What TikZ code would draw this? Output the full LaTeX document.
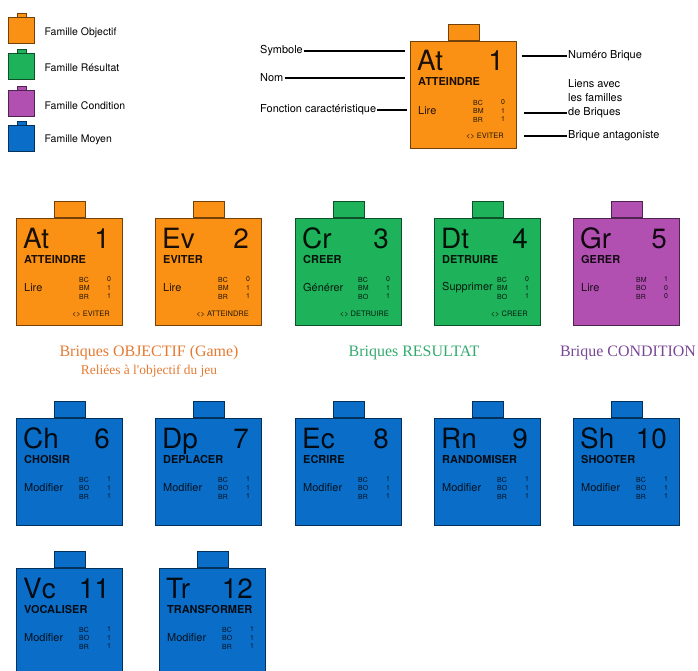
\documentclass[tikz,border=0pt]{standalone}
\usepackage{fontspec}
\setmainfont{TeX Gyre Heros}
\newfontfamily\capfont{Liberation Serif}
\usetikzlibrary{positioning, calc}
\definecolor{objorange}{RGB}{250,145,20}
\definecolor{resgreen}{RGB}{30,178,90}
\definecolor{condpurple}{RGB}{178,80,178}
\definecolor{moyblue}{RGB}{10,110,200}
\definecolor{capo}{RGB}{228,122,50}
\definecolor{capg}{RGB}{50,170,110}
\definecolor{capp}{RGB}{120,70,150}

\tikzset{
  body/.style={draw=#1!45!black, fill=#1, line width=0.6bp, inner sep=0pt,
    minimum width=106bp, minimum height=107bp, anchor=north west},
  tab/.style={draw=#1!45!black, fill=#1, line width=0.6bp, inner sep=0pt,
    minimum width=31bp, minimum height=16bp, anchor=south},
  mini/.style={draw=#1!45!black, fill=#1, line width=0.5bp, inner sep=0pt,
    minimum width=26bp, minimum height=26bp, anchor=north west},
  minitab/.style={draw=#1!45!black, fill=#1, line width=0.4bp, inner sep=0pt,
    minimum width=9bp, minimum height=4bp, anchor=south},
  symb/.style={font=\fontsize{28}{28}\selectfont, inner sep=0pt},
  nom/.style={font=\bfseries\fontsize{11}{11}\selectfont, inner sep=0pt},
  fonc/.style={font=\fontsize{11}{11}\selectfont, inner sep=0pt},
  tiny/.style={font=\fontsize{7}{7}\selectfont, inner sep=0pt},
  antag/.style={font=\fontsize{7.5}{7.5}\selectfont, inner sep=0pt},
  lab/.style={font=\fontsize{11}{14}\selectfont, inner sep=1bp, anchor=west},
  famille/.style={font=\fontsize{10.5}{12}\selectfont, inner sep=0pt, anchor=west},
  trait/.style={line width=2bp},
}

% une brique : nom, position (coin haut gauche), couleur, symbole, numero,
% nom, fonction, liens, brique antagoniste
\newcommand{\brique}[9]{%
  \node[body=#3] (#1) at (#2) {};
  \node[tab=#3] (#1-tab) at (#1.north) {};
  \node[symb, text=#3!10!black, anchor=base west] (#1-sym) at ($(#1.north west)+(7,30)$) {#4};
  \node[symb, text=#3!10!black, anchor=base east] (#1-num) at ($(#1.north west)+(94,30)$) {#5};
  \node[nom, text=#3!10!black, anchor=base west] (#1-nom) at ($(#1.north west)+(8,45)$) {#6};
  \node[fonc, text=#3!15!black, anchor=west] (#1-fonc) at ($(#1.north west)+(8,70)$) {#7};
  \foreach \lab/\val [count=\i] in {#8} {
    \node[tiny, text=#3!15!black, anchor=west] (#1-l\i) at ($(#1.north west)+(63,{53+8.5*\i})$) {\lab};
    \node[tiny, text=#3!15!black] (#1-v\i) at ($(#1.north west)+(93,{53+8.5*\i})$) {\val};
  }
  \node[antag, text=#3!15!black, anchor=base east] (#1-ant) at ($(#1.north west)+(94,98)$) {#9};
}

\begin{document}
\begin{tikzpicture}[x=1bp, y=-1bp]
  \useasboundingbox (0,0) rectangle (698,671);
  \clip (0,0) rectangle (698,671);

  % legende des familles
  \foreach \col/\txt/\yy [count=\k] in {objorange/Famille Objectif/17,
      resgreen/Famille Résultat/53, condpurple/Famille Condition/90,
      moyblue/Famille Moyen/125} {
    \node[mini=\col] (fam\k) at (8,\yy) {};
    \node[minitab=\col] (fam\k-tab) at (fam\k.north) {};
    \node[famille] (fam\k-txt) at ($(fam\k.east)+(10,2)$) {\txt};
  }

  % brique de legende
  \brique{leg}{410,41}{objorange}{At}{1}{ATTEINDRE}{Lire}{BC/0, BM/1, BR/1}{<> EVITER}

  \node[lab] (lsym) at (259,51) {Symbole};
  \node[lab] (lnom) at (259,78) {Nom};
  \node[lab] (lfonc) at (259,110) {Fonction caractéristique};
  \draw[trait, shorten >=5bp] (lsym.east) -- (lsym.east -| leg.west);
  \draw[trait, shorten >=5bp] (lnom.east) -- (lnom.east -| leg.west);
  \draw[trait, shorten >=3bp] (lfonc.east) -- (lfonc.east -| leg.west);

  \node[lab] (lnum) at (567,56) {Numéro Brique};
  \node[lab, align=left] (lliens) at (567,99) {Liens avec\\les familles\\de Briques};
  \node[lab] (lant) at (567,136) {Brique antagoniste};
  \coordinate (cliens) at (567,113);
  \draw[trait, shorten <=5bp] (lnum.west -| leg.east) -- (lnum.west);
  \draw[trait, shorten <=7bp] (cliens -| leg.east) -- (cliens);
  \draw[trait, shorten <=7bp] (lant.west -| leg.east) -- (lant.west);

  % briques objectif, resultat, condition
  \brique{at}{16,218}{objorange}{At}{1}{ATTEINDRE}{Lire}{BC/0, BM/1, BR/1}{<> EVITER}
  \brique{ev}{155,218}{objorange}{Ev}{2}{EVITER}{Lire}{BC/0, BM/1, BR/1}{<> ATTEINDRE}
  \brique{cr}{295,218}{resgreen}{Cr}{3}{CREER}{Générer}{BC/0, BM/1, BO/1}{<> DETRUIRE}
  \brique{dt}{434,218}{resgreen}{Dt}{4}{DETRUIRE}{Supprimer}{BC/0, BM/1, BO/1}{<> CREER}
  \brique{gr}{573,218}{condpurple}{Gr}{5}{GERER}{Lire}{BM/1, BO/0, BR/0}{}

  \node[font=\capfont\fontsize{16}{16}\selectfont, text=capo] (cobj) at (149,353) {Briques OBJECTIF (Game)};
  \node[font=\capfont\fontsize{13.5}{13.5}\selectfont, text=capo, below=-2bp of cobj] (cobj2) {Reliées à l'objectif du jeu};
  \node[font=\capfont\fontsize{16}{16}\selectfont, text=capg] (cres) at (414,353) {Briques RESULTAT};
  \node[font=\capfont\fontsize{16}{16}\selectfont, text=capp] (ccond) at (628,353) {Brique CONDITION};

  % briques moyen
  \brique{ch}{16,418}{moyblue}{Ch}{6}{CHOISIR}{Modifier}{BC/1, BO/1, BR/1}{}
  \brique{dp}{155,418}{moyblue}{Dp}{7}{DEPLACER}{Modifier}{BC/1, BO/1, BR/1}{}
  \brique{ec}{295,418}{moyblue}{Ec}{8}{ECRIRE}{Modifier}{BC/1, BO/1, BR/1}{}
  \brique{rn}{434,418}{moyblue}{Rn}{9}{RANDOMISER}{Modifier}{BC/1, BO/1, BR/1}{}
  \brique{sh}{573,418}{moyblue}{Sh}{10}{SHOOTER}{Modifier}{BC/1, BO/1, BR/1}{}
  \brique{vc}{16,568}{moyblue}{Vc}{11}{VOCALISER}{Modifier}{BC/1, BO/1, BR/1}{}
  \brique{tr}{159,568}{moyblue}{Tr}{12}{TRANSFORMER}{Modifier}{BC/1, BO/1, BR/1}{}
\end{tikzpicture}
\end{document}
